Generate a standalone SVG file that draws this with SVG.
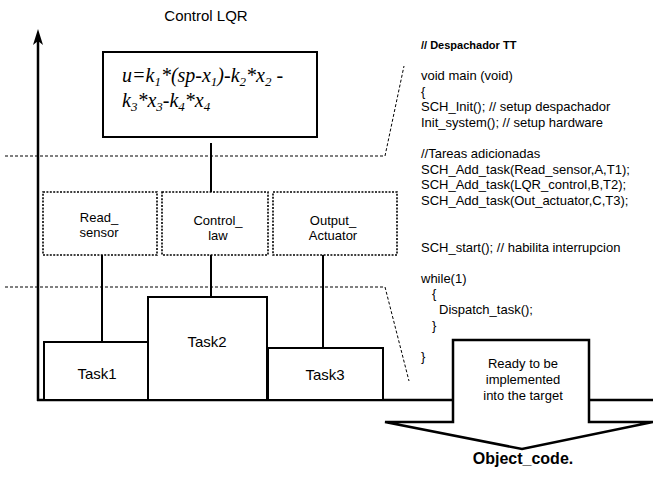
<svg xmlns="http://www.w3.org/2000/svg" width="653" height="478" viewBox="0 0 653 478">
<style>
  .sans { font-family: "Liberation Sans", Arial, sans-serif; fill: #000; }
  .serif { font-family: "Liberation Serif", "Times New Roman", serif; font-style: italic; fill: #000; }
  .solid { fill: #fff; stroke: #000; stroke-width: 2; }
  .dotbox { fill: #fff; stroke: #000; stroke-width: 1.6; stroke-dasharray: 2 1.4; }
  .dash { fill: none; stroke: #000; stroke-width: 1; stroke-dasharray: 3 2; }
  .conn { fill: none; stroke: #000; stroke-width: 2; }
  .axis { fill: none; stroke: #000; stroke-width: 2.5; }
</style>
<defs>
  <marker id="arrow" viewBox="0 0 16 10" refX="5" refY="5" markerWidth="16" markerHeight="10" markerUnits="userSpaceOnUse" orient="auto">
    <path d="M0,0 L16,5 L0,10 L4,5 Z" fill="#000"/>
  </marker>
</defs>
<rect width="653" height="478" fill="#fff"/>

<g id="dashed-levels">
  <path class="dash" d="M5,156 L385,156 L404,66"/>
  <path class="dash" d="M5,287 L385,287 L409,381"/>
</g>

<g id="title">
  <text class="sans" x="206" y="21" font-size="15" text-anchor="middle">Control LQR</text>
</g>

<g id="connectors">
  <line class="conn" x1="211" y1="143" x2="211" y2="192"/>
  <line class="conn" x1="102" y1="255" x2="102" y2="342"/>
  <line class="conn" x1="211" y1="255" x2="211" y2="297"/>
  <line class="conn" x1="323" y1="255" x2="323" y2="348"/>
</g>

<g id="axes">
  <line class="axis" x1="38" y1="401" x2="38" y2="40" marker-end="url(#arrow)"/>
  <line class="axis" x1="37" y1="400" x2="453" y2="400"/>
  <line class="axis" x1="589" y1="400" x2="653" y2="400"/>
</g>

<g id="formula">
  <rect class="solid" x="103" y="52" width="214" height="85"/>
  <text class="serif" x="122" y="82" font-size="20">u=k<tspan font-size="13" dy="4">1</tspan><tspan dy="-4">*(sp-x</tspan><tspan font-size="13" dy="4">1</tspan><tspan dy="-4">)-k</tspan><tspan font-size="13" dy="4">2</tspan><tspan dy="-4">*x</tspan><tspan font-size="13" dy="4">2</tspan><tspan dy="-4"> -</tspan></text>
  <text class="serif" x="122" y="107" font-size="20">k<tspan font-size="13" dy="4">3</tspan><tspan dy="-4">*x</tspan><tspan font-size="13" dy="4">3</tspan><tspan dy="-4">-k</tspan><tspan font-size="13" dy="4">4</tspan><tspan dy="-4">*x</tspan><tspan font-size="13" dy="4">4</tspan></text>
</g>

<g id="read_sensor">
  <rect class="dotbox" x="43" y="192" width="114" height="63"/>
  <text class="sans" font-size="13" text-anchor="middle"><tspan x="99" y="222">Read_</tspan><tspan x="99" y="237">sensor</tspan></text>
</g>
<g id="control_law">
  <rect class="dotbox" x="162" y="192" width="106" height="63"/>
  <text class="sans" font-size="13" text-anchor="middle"><tspan x="218" y="225">Control_</tspan><tspan x="218" y="240">law</tspan></text>
</g>
<g id="output_actuator">
  <rect class="dotbox" x="273" y="192" width="124" height="63"/>
  <text class="sans" font-size="13" text-anchor="middle"><tspan x="333" y="225">Output_</tspan><tspan x="333" y="240">Actuator</tspan></text>
</g>

<g id="task1">
  <rect class="solid" x="44" y="342" width="104" height="58"/>
  <text class="sans" x="97" y="379" font-size="15" text-anchor="middle">Task1</text>
</g>
<g id="task2">
  <rect class="solid" x="148" y="297" width="119" height="103"/>
  <text class="sans" x="207" y="347" font-size="15" text-anchor="middle">Task2</text>
</g>
<g id="task3">
  <rect class="solid" x="268" y="348" width="115" height="52"/>
  <text class="sans" x="325" y="380" font-size="15" text-anchor="middle">Task3</text>
</g>

<g id="object_code">
  <path class="axis" fill="#fff" d="M453,340 H589 V422 H653 L522,449 L385,422 H453 Z"/>
  <text class="sans" font-size="13" text-anchor="middle"><tspan x="523" y="368">Ready to be</tspan><tspan x="523" y="384">implemented</tspan><tspan x="523" y="400">into the target</tspan></text>
  <text class="sans" x="523" y="464" font-size="16" font-weight="bold" text-anchor="middle">Object_code.</text>
</g>

<g id="code">
  <text class="sans" x="421" y="49" font-size="11" font-weight="bold">// Despachador TT</text>
  <text class="sans" font-size="13">
    <tspan x="421" y="80">void main (void)</tspan>
    <tspan x="421" y="95.6">{</tspan>
    <tspan x="421" y="111.2">SCH_Init(); // setup despachador</tspan>
    <tspan x="421" y="126.8">Init_system(); // setup hardware</tspan>
    <tspan x="421" y="158">//Tareas adicionadas</tspan>
    <tspan x="421" y="173.6">SCH_Add_task(Read_sensor,A,T1);</tspan>
    <tspan x="421" y="189.2">SCH_Add_task(LQR_control,B,T2);</tspan>
    <tspan x="421" y="204.8">SCH_Add_task(Out_actuator,C,T3);</tspan>
    <tspan x="421" y="251.6">SCH_start(); // habilita interrupcion</tspan>
    <tspan x="421" y="282.8">while(1)</tspan>
    <tspan x="432" y="298.4">{</tspan>
    <tspan x="439" y="314">Dispatch_task();</tspan>
    <tspan x="432" y="329.6">}</tspan>
    <tspan x="421" y="360.8">}</tspan>
  </text>
</g>
</svg>
